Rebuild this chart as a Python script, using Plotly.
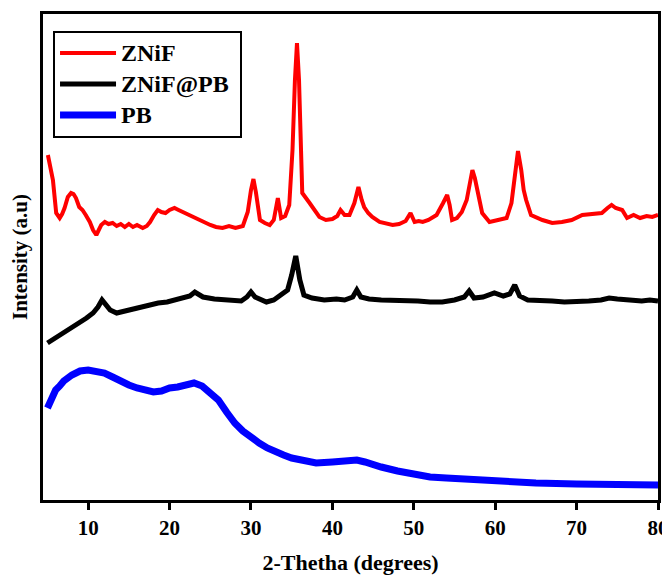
import plotly.graph_objects as go

# ZNiF (red) : 2-theta, intensity (a.u.)
znif_x = [5.05, 5.4, 5.67, 6.07, 6.5, 6.8, 7.1, 7.5, 7.9, 8.2, 8.5, 8.9, 9.3, 9.7, 10.2, 10.6,
          11.0, 11.3, 11.6, 12.05, 12.5, 13.0, 13.5, 14.0, 14.5, 15.0, 15.5, 16.0, 16.7, 17.2,
          17.6, 18.1, 18.55, 19.0, 19.5, 20.0, 20.6, 21.1, 21.6, 22.4, 23.2, 23.8, 24.4, 25.0,
          25.7, 26.5, 27.3, 28.1, 29.0, 29.6, 30.0, 30.3, 30.6, 31.1, 31.7, 32.3, 32.8, 33.3,
          33.7, 34.2, 34.7, 35.1, 35.4, 35.65, 35.9, 36.1, 36.3, 37.2, 37.8, 38.4, 39.2, 40.0,
          40.6, 41.0, 41.5, 42.1, 42.7, 43.2, 43.6, 43.9, 44.4, 44.9, 45.8, 46.6, 47.4, 48.2,
          49.0, 49.6, 50.1, 50.6, 51.1, 51.8, 52.8, 53.6, 54.1, 54.4, 54.7, 55.3, 55.9, 56.5,
          56.9, 57.2, 57.5, 57.9, 58.4, 59.3, 60.3, 61.4, 62.0, 62.4, 62.8, 63.2, 63.5, 63.8,
          64.4, 65.8, 67.0, 68.2, 69.4, 70.7, 71.9, 73.1, 73.8, 74.3, 74.8, 75.6, 76.2, 77.0,
          77.8, 78.6, 79.3, 80.0]
znif_y = [345, 332, 320, 287, 282, 286, 292, 303, 307, 306, 302, 293, 290, 285, 278, 270,
          265, 270, 275, 278, 276, 277, 274, 276, 273, 276, 273, 275, 272, 274,
          278, 285, 290, 288, 287, 290, 292, 290, 288, 285, 282, 280, 277, 275,
          273, 272, 274, 272, 274, 288, 310, 321, 308, 280, 277, 275, 280, 302,
          282, 284, 295, 350, 420, 457, 420, 350, 307, 297, 290, 283, 280, 281,
          284, 290, 285, 285, 297, 313, 300, 293, 287, 283, 278, 276, 275, 276,
          279, 287, 278, 279, 278, 280, 285, 297, 305, 295, 280, 282, 288, 300,
          315, 330, 322, 305, 287, 278, 280, 282, 297, 325, 349, 330, 310, 300,
          285, 280, 277, 278, 280, 285, 286, 287, 292, 295, 292, 290, 282, 285,
          282, 284, 283, 285]

# ZNiF@PB (black)
zp_x = [5, 6, 7.4, 8.6, 9.8, 10.6, 11.2, 11.7, 12.2, 12.7, 13.5, 14.5, 15.5, 16.5, 17.6, 18.6,
        19.7, 20.6, 21.6, 22.5, 23.1, 23.6, 24.1, 25.5, 26.7, 27.8, 28.8, 29.5, 30.0, 30.5,
        31.2, 31.9, 32.8, 33.9, 34.5, 35.0, 35.5, 36.0, 36.5, 37.5, 39, 40.5, 41.5, 42.5, 43.0,
        43.5, 44.5, 46, 47.5, 49, 50.5, 52, 53.5, 55, 56.2, 56.8, 57.4, 58.5, 59.9, 61.0,
        61.8, 62.4, 63.0, 64, 65.5, 67, 68.5, 70, 71.5, 73, 74, 75, 76.5, 78, 79, 80]
zp_y = [157, 162, 170, 176, 182, 187, 193, 200, 195, 190, 187, 189, 190, 192, 195, 197,
        198, 200, 202, 204, 208, 206, 203, 201, 200, 200, 199, 203, 208, 203,
        200, 198, 200, 206, 210, 225, 244, 220, 205, 202, 200, 201, 200, 203, 210,
        203, 201, 200, 200, 199, 199, 198, 198, 200, 203, 209, 202, 203, 207, 204,
        206, 215, 204, 200, 200, 199, 198, 198, 199, 200, 202, 201, 200, 199, 200, 199]

# PB (blue)
pb_x = [5, 5.5, 6.0, 6.5, 7, 8, 9, 10, 11, 12, 13, 14, 15, 16, 17, 18, 19, 20, 21, 22, 23,
        24, 25, 26, 27, 28, 29, 30, 31, 32, 33, 34, 35, 36, 37, 38, 40, 42, 43, 44, 45, 46,
        48, 50, 52, 54, 56, 58, 60, 62, 65, 70, 75, 80]
pb_y = [92, 103, 110, 114, 119, 125, 129, 130, 129, 127, 123, 118, 115, 112, 110, 108, 109,
        112, 113, 115, 117, 114, 107, 100, 88, 77, 69, 62, 57, 52, 48, 45, 42, 40, 38, 37,
        38, 39, 40, 38, 35, 33, 29, 26, 23, 22, 21, 19, 18, 17.5, 17, 16, 16, 15]

series_names = ["ZNiF", "ZNiF@PB", "PB"]
x_ticks = [10, 20, 30, 40, 50, 60, 70, 80]

FONT = "Liberation Serif, Times New Roman, serif"


def legend_label(name, pad=0):
    return "<span style='font-size:24px'>" + name + "&nbsp;" * pad + "</span>"


fig = go.Figure()
fig.add_trace(go.Scatter(x=znif_x, y=znif_y, mode="lines", name=legend_label(series_names[0]),
                         line=dict(color="#ff0000", width=4)))
fig.add_trace(go.Scatter(x=zp_x, y=zp_y, mode="lines", name=legend_label(series_names[1], 1),
                         line=dict(color="#000000", width=5)))
fig.add_trace(go.Scatter(x=pb_x, y=pb_y, mode="lines", name=legend_label(series_names[2]),
                         line=dict(color="#0000ff", width=7)))

# the page body adds an 8px margin, so the figure is 8px smaller on each axis
fig.update_layout(
    width=662, height=567,
    margin=dict(l=35, r=12, t=6, b=75),
    paper_bgcolor="white", plot_bgcolor="white",
    font=dict(family=FONT, color="black", size=20, weight="bold"),
    showlegend=True,
    legend=dict(x=0.0163, y=0.966, xanchor="left", yanchor="top",
                bordercolor="black", borderwidth=2, bgcolor="white",
                itemwidth=56,
                font=dict(family=FONT, size=21.5, color="black", weight="bold"),
                tracegroupgap=0),
    xaxis=dict(range=[4.45, 80], tickvals=x_ticks, ticks="outside", ticklen=7,
               tickwidth=2.5, tickcolor="black", showline=True, linecolor="black",
               linewidth=2.5, mirror=True, showgrid=False, zeroline=False,
               automargin=False,
               tickfont=dict(family=FONT, size=21, color="black", weight="bold"),
               title=dict(text="2-Thetha (degrees)", standoff=20,
                          font=dict(family=FONT, size=22, color="black", weight="bold"))),
    yaxis=dict(range=[0, 486], showticklabels=False, ticks="", showline=True,
               linecolor="black", linewidth=2.5, mirror=True, showgrid=False,
               zeroline=False, automargin=False,
               title=dict(text="Intensity (a.u)", standoff=10,
                          font=dict(family=FONT, size=21, color="black", weight="bold"))),
)

fig.write_html("out.html")
